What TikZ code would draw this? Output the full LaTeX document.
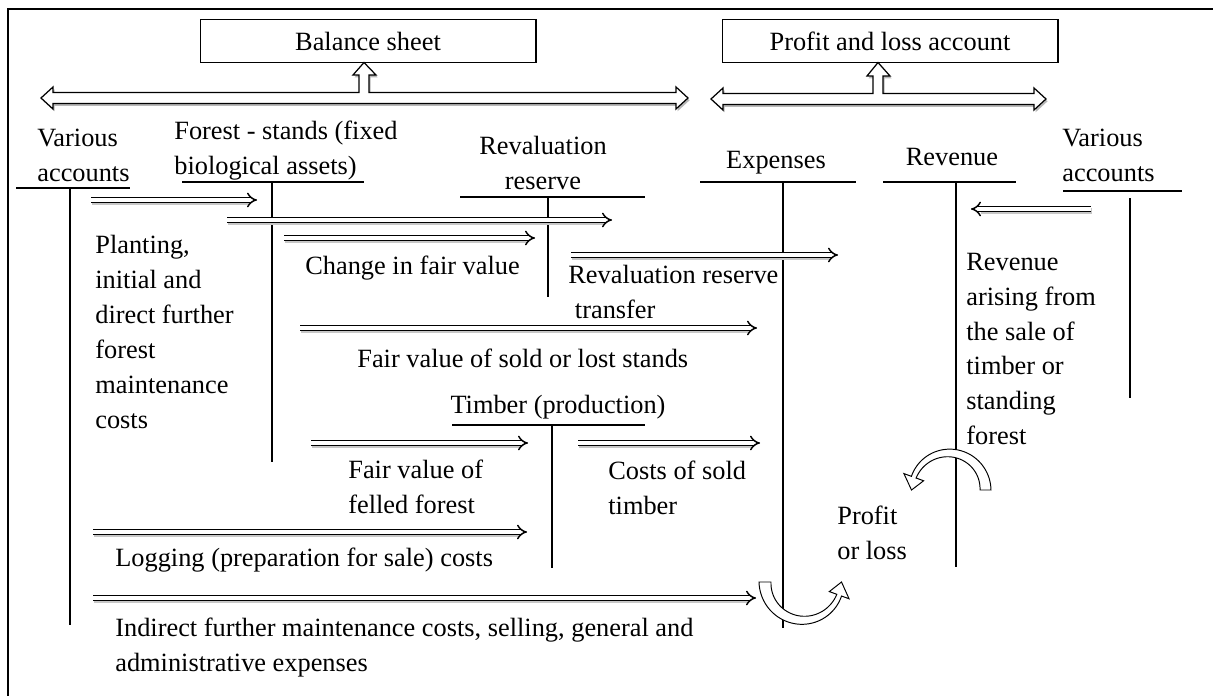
\documentclass[tikz,border=0pt]{standalone}
\usepackage{fontspec}
\setmainfont{Liberation Serif}
\usetikzlibrary{arrows.meta}

\tikzset{
  txt/.style={inner sep=0pt, align=left, anchor=west, font=\fontsize{15}{19.9}\selectfont},
  ctxt/.style={inner sep=0pt, align=center, font=\fontsize{15}{19.9}\selectfont},
  sheet/.style={draw, line width=0.6pt, minimum width=6.72cm, minimum height=0.86cm, font=\fontsize{15}{19.9}\selectfont},
  tacc/.style={line width=1pt},
  flow/.style={double=white, double distance=2pt, line width=0.85pt, -{Implies},
    preaction={draw=black!22, line width=3.6pt, -{}, shorten >=5pt, transform canvas={xshift=0.6pt, yshift=-1.3pt}}},
  blk/.style={draw, fill=white, line width=0.7pt, preaction={fill=black!28, transform canvas={xshift=0.9pt, yshift=-1.3pt}}},
  curvarrow/.style={draw, fill=white, line width=0.55pt}
}

\begin{document}
\begin{tikzpicture}[x=0.02cm, y=-0.02cm]
    \useasboundingbox (0,0) rectangle (1213,696);
    \draw[line width=1.1pt] (8,720) -- (8,9) -- (1230,9);

    \node[sheet] at (368,41) (bal) {Balance sheet};
    \node[sheet] at (890,41) (pl) {Profit and loss account};

    \draw[blk] (41,98) -- (53,87) -- (53,92.5) -- (359,92.5) -- (359,75) -- (353,75) -- (364,62.5)
        -- (376,75) -- (369,75) -- (369,92.5) -- (676,92.5) -- (676,87) -- (688,98) -- (676,109)
        -- (676,103.5) -- (53,103.5) -- (53,109) -- cycle;
    \draw[blk] (711,99) -- (723,88) -- (723,93.5) -- (873,93.5) -- (873,76) -- (867,76) -- (878,62.5)
        -- (890,76) -- (883,76) -- (883,93.5) -- (1034,93.5) -- (1034,88) -- (1046,99) -- (1034,110)
        -- (1034,104.5) -- (723,104.5) -- (723,110) -- cycle;

    % account headers
    \node[txt] at (37,155) (va) {Various\\accounts};
    \node[txt] at (174,151) (fst) {Forest - stands (fixed\\biological assets)};
    \node[ctxt] at (543,163) (rr) {Revaluation\\reserve};
    \node[ctxt] at (776,163) (exp) {Expenses};
    \node[ctxt] at (952,157) (rev) {Revenue};
    \node[txt] at (1062,155) (var) {Various\\accounts};
    \node[ctxt] at (558,407) (tim) {Timber (production)};

    \draw[tacc] (16,188) -- (130,188) (70,188) -- (70,625);
    \draw[tacc] (182,182) -- (364,182) (272,182) -- (272,462);
    \draw[tacc] (460,197) -- (645,197) (548,197) -- (548,297);
    \draw[tacc] (700,182) -- (856,182) (783,182) -- (783,628);
    \draw[tacc] (883,182) -- (1016,182) (956,182) -- (956,567);
    \draw[tacc] (1063,191) -- (1182,191) (1130,198) -- (1130,398);
    \draw[tacc] (452,425) -- (645,425) (552,425) -- (552,568);

    % postings
    \node[txt] at (95,332) (plant) {Planting,\\initial and\\direct further\\forest\\maintenance\\costs};
    \node[txt] at (305,268) (chg) {Change in fair value};
    \node[txt] at (568,292) (rrt) {Revaluation reserve\\\ transfer};
    \node[txt] at (357,358) (fvs) {Fair value of sold or lost stands};
    \node[txt] at (348,487) (fvf) {Fair value of\\felled forest};
    \node[txt] at (608,488) (cst) {Costs of sold\\timber};
    \node[txt] at (115,560) (lgc) {Logging (preparation for sale) costs};
    \node[txt] at (115,648) (ind) {Indirect further maintenance costs, selling, general and\\administrative expenses};
    \node[txt] at (837,533) (pol) {Profit\\or loss};
    \node[txt] at (966,349) (rvs) {Revenue\\arising from\\the sale of\\timber or\\standing\\forest};

    \coordinate (a1) at (91,200);   \coordinate (b1) at (257,200);
    \coordinate (a2) at (227,220);  \coordinate (b2) at (612,220);
    \coordinate (a3) at (284,238);  \coordinate (b3) at (535,238);
    \coordinate (a4) at (571,255);  \coordinate (b4) at (838,255);
    \coordinate (a5) at (300,328);  \coordinate (b5) at (757,328);
    \coordinate (a6) at (311,443);  \coordinate (b6) at (528,443);
    \coordinate (a7) at (578,443);  \coordinate (b7) at (760,443);
    \coordinate (a8) at (93,532);   \coordinate (b8) at (527,532);
    \coordinate (a9) at (93,598);   \coordinate (b9) at (756,598);
    \coordinate (a10) at (1091,209); \coordinate (b10) at (971,209);

    \draw[flow] (a1) -- (b1);
    \draw[flow] (a2) -- (b2);
    \draw[flow] (a3) -- (b3);
    \draw[flow] (a4) -- (b4);
    \draw[flow] (a5) -- (b5);
    \draw[flow] (a6) -- (b6);
    \draw[flow] (a7) -- (b7);
    \draw[flow] (a8) -- (b8);
    \draw[flow] (a9) -- (b9);
    \draw[flow] (a10) -- (b10);

    % closing to profit or loss
    \begin{scope}[shift={(949,490)}]
        \draw[curvarrow] plot[domain=0:-160, samples=40] ({(42-2*\x/-160)*cos(\x)},{(42-2*\x/-160)*sin(\x)})
            -- (-160:48) -- (-180:37.5) -- (-160:27)
            -- plot[domain=-160:0, samples=40] ({(31+4*\x/-160)*cos(\x)},{(31+4*\x/-160)*sin(\x)}) -- cycle;
    \end{scope}
    \begin{scope}[shift={(803,582)}]
        \draw[curvarrow] plot[domain=180:20, samples=40] ({(44-3*(180-\x)/160)*cos(\x)},{(44-3*(180-\x)/160)*sin(\x)})
            -- (20:49) -- (0:38.5) -- (20:28)
            -- plot[domain=20:180, samples=40] ({(32+4*(180-\x)/160)*cos(\x)},{(32+4*(180-\x)/160)*sin(\x)}) -- cycle;
    \end{scope}
\end{tikzpicture}
\end{document}
